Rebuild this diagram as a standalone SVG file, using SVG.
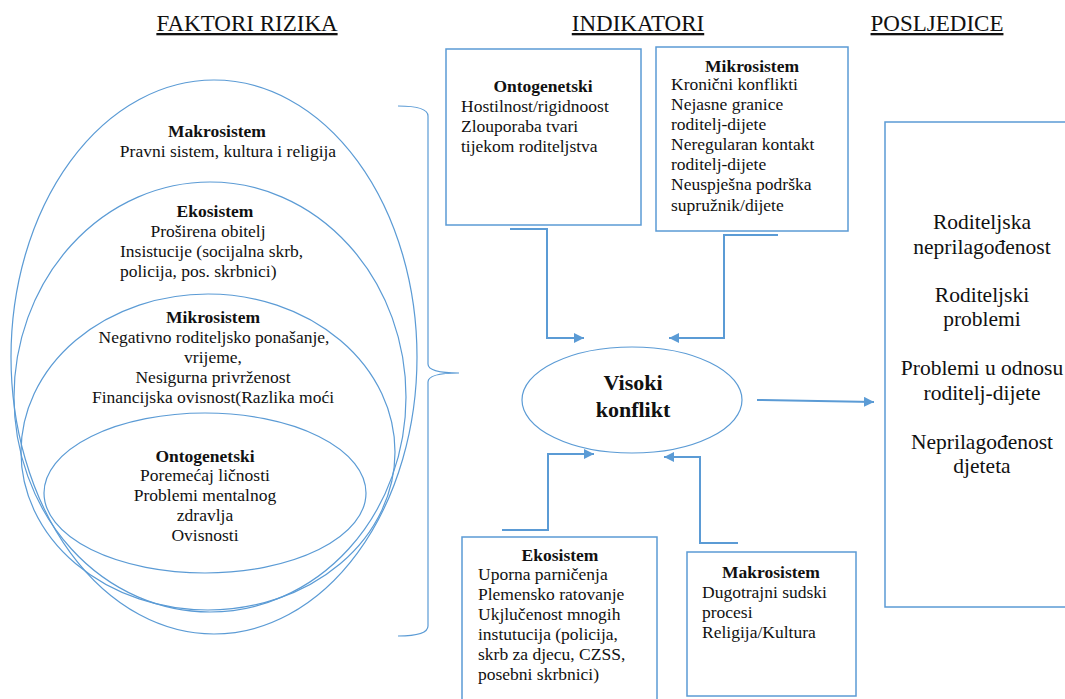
<svg xmlns="http://www.w3.org/2000/svg" width="1065" height="699" viewBox="0 0 1065 699">
<style>
text{font-family:"Liberation Serif","Times New Roman",serif;fill:#111;}
.t{font-size:17.5px;}
.b{font-weight:bold;}
.c{text-anchor:middle;}
.h{font-size:23px;text-decoration:underline;text-anchor:middle;}
.big{font-size:21.5px;text-anchor:middle;}
.ell{fill:none;stroke:#5B9BD5;stroke-width:1.2;}
.box{fill:#fff;stroke:#5B9BD5;stroke-width:1.5;}
.con{fill:none;stroke:#5B9BD5;stroke-width:2;}
</style>
<defs>
<marker id="ah" viewBox="0 0 10 10" refX="10" refY="5" markerWidth="5" markerHeight="5" orient="auto" markerUnits="strokeWidth">
<path d="M0,0 L10,5 L0,10 z" fill="#5B9BD5"/>
</marker>
</defs>
<rect width="1065" height="699" fill="#fff"/>

<g id="titles">
<text class="h" x="247" y="31">FAKTORI RIZIKA</text>
<text class="h" x="638" y="31">INDIKATORI</text>
<text class="h" x="937" y="31">POSLJEDICE</text>
</g>

<g id="risk-factors">
<ellipse class="ell" cx="214" cy="357" rx="203" ry="277"/>
<ellipse class="ell" cx="210" cy="397" rx="196" ry="215"/>
<ellipse class="ell" cx="208" cy="452" rx="187" ry="158"/>
<ellipse class="ell" cx="205" cy="493" rx="161" ry="80"/>
<path class="ell" d="M398,106 C415,106 428,108 428,116 L428,364 C428,370 440,373 459,373 C440,373 428,376 428,382 L428,626 C428,634 415,636 398,636"/>
</g>

<g id="makro-risk">
<text class="t b c" x="217" y="137">Makrosistem</text>
<text class="t c" x="228" y="157">Pravni sistem, kultura i religija</text>
</g>
<g id="eko-risk">
<text class="t b c" x="215" y="217">Ekosistem</text>
<text class="t c" x="208" y="237">Proširena obitelj</text>
<text class="t" x="120" y="257">Insistucije (socijalna skrb,</text>
<text class="t" x="120" y="277">policija, pos. skrbnici)</text>
</g>
<g id="mikro-risk">
<text class="t b c" x="213" y="323">Mikrosistem</text>
<text class="t c" x="214" y="343">Negativno roditeljsko ponašanje,</text>
<text class="t c" x="213" y="363">vrijeme,</text>
<text class="t c" x="213" y="383">Nesigurna privrženost</text>
<text class="t c" x="213" y="403">Financijska ovisnost(Razlika moći</text>
</g>
<g id="onto-risk">
<text class="t b c" x="205" y="462">Ontogenetski</text>
<text class="t c" x="205" y="481">Poremećaj ličnosti</text>
<text class="t c" x="205" y="501">Problemi mentalnog</text>
<text class="t c" x="205" y="521">zdravlja</text>
<text class="t c" x="205" y="541">Ovisnosti</text>
</g>

<g id="onto-ind">
<rect class="box" x="446" y="49" width="195" height="176"/>
<text class="t b c" x="543" y="92">Ontogenetski</text>
<text class="t" x="461" y="112">Hostilnost/rigidnoost</text>
<text class="t" x="461" y="132">Zlouporaba tvari</text>
<text class="t" x="461" y="152">tijekom roditeljstva</text>
</g>
<g id="mikro-ind">
<rect class="box" x="656" y="47" width="192" height="184"/>
<text class="t b c" x="752" y="72">Mikrosistem</text>
<text class="t" x="671" y="90">Kronični konflikti</text>
<text class="t" x="671" y="110">Nejasne granice</text>
<text class="t" x="671" y="130">roditelj-dijete</text>
<text class="t" x="671" y="150">Neregularan kontakt</text>
<text class="t" x="671" y="170">roditelj-dijete</text>
<text class="t" x="671" y="190">Neuspješna podrška</text>
<text class="t" x="671" y="211">supružnik/dijete</text>
</g>

<g id="center">
<ellipse class="ell" cx="632" cy="400" rx="110" ry="53"/>
<text class="b c" style="font-size:22px" x="633" y="390">Visoki</text>
<text class="b c" style="font-size:22px" x="633" y="417">konflikt</text>
</g>

<g id="eko-ind">
<rect class="box" x="462" y="537" width="195" height="170"/>
<text class="t b c" x="560" y="561">Ekosistem</text>
<text class="t" x="478" y="580">Uporna parničenja</text>
<text class="t" x="478" y="600">Plemensko ratovanje</text>
<text class="t" x="478" y="620">Ukjlučenost mnogih</text>
<text class="t" x="478" y="640">instutucija (policija,</text>
<text class="t" x="478" y="660">skrb za djecu, CZSS,</text>
<text class="t" x="478" y="680">posebni skrbnici)</text>
</g>
<g id="makro-ind">
<rect class="box" x="687" y="552" width="169" height="144"/>
<text class="t b c" x="771" y="578">Makrosistem</text>
<text class="t" x="702" y="598">Dugotrajni sudski</text>
<text class="t" x="702" y="618">procesi</text>
<text class="t" x="702" y="638">Religija/Kultura</text>
</g>

<g id="outcomes">
<rect class="box" x="885" y="122" width="190" height="485"/>
<text class="big" x="982" y="229">Roditeljska</text>
<text class="big" x="982" y="254">neprilagođenost</text>
<text class="big" x="982" y="302">Roditeljski</text>
<text class="big" x="982" y="326">problemi</text>
<text class="big" x="982" y="375">Problemi u odnosu</text>
<text class="big" x="982" y="400">roditelj-dijete</text>
<text class="big" x="982" y="449">Neprilagođenost</text>
<text class="big" x="982" y="473">djeteta</text>
</g>

<g id="connectors">
<polyline class="con" points="510,229 547,229 547,338 584,338" marker-end="url(#ah)"/>
<polyline class="con" points="778,235 724,235 724,338 669,338" marker-end="url(#ah)"/>
<polyline class="con" points="502,530 548,530 548,454 594,454" marker-end="url(#ah)"/>
<polyline class="con" points="738,543 700,543 700,457 664,457" marker-end="url(#ah)"/>
<line class="con" x1="757" y1="400" x2="874" y2="402" marker-end="url(#ah)"/>
</g>
</svg>
